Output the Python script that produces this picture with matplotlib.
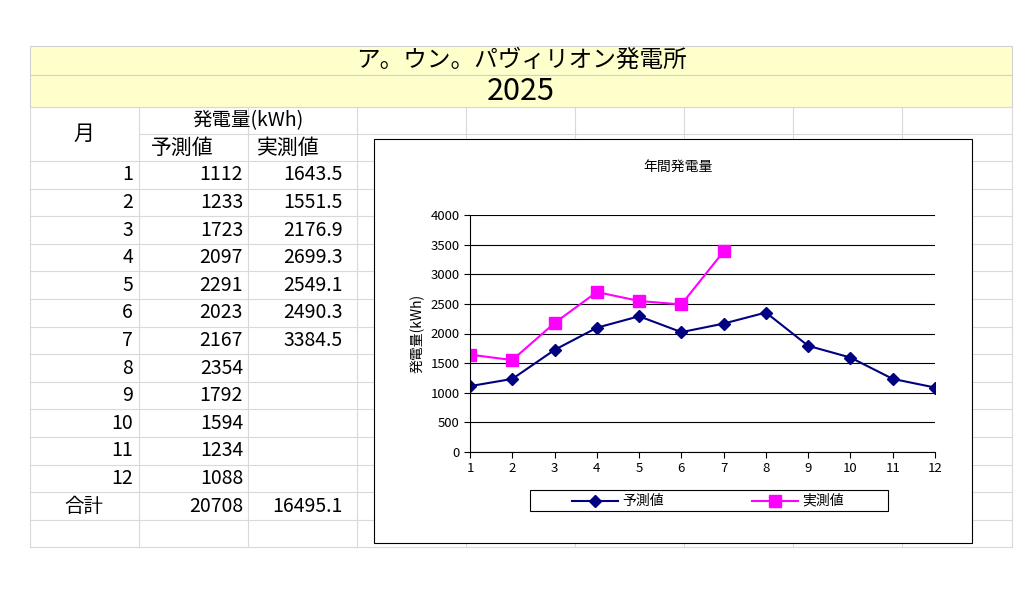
import matplotlib
matplotlib.use("Agg")
import matplotlib.pyplot as plt
from matplotlib.patches import Rectangle

plt.rcParams["font.family"] = ["Noto Sans CJK JP", "DejaVu Sans"]

title = "ア。ウン。パヴィリオン発電所"
year = "2025"
months = [1, 2, 3, 4, 5, 6, 7, 8, 9, 10, 11, 12]
forecast = [1112, 1233, 1723, 2097, 2291, 2023, 2167, 2354, 1792, 1594, 1234, 1088]
actual = [1643.5, 1551.5, 2176.9, 2699.3, 2549.1, 2490.3, 3384.5]
total_forecast = 20708
total_actual = 16495.1

W, H = 1024, 605
fig = plt.figure(figsize=(W / 100, H / 100), dpi=100)
bg = fig.add_axes([0, 0, 1, 1])
bg.set_xlim(0, W)
bg.set_ylim(H, 0)
bg.axis("off")

# title bands
for y0, y1 in [(46, 75), (75, 107)]:
    bg.add_patch(Rectangle((30, y0), 982, y1 - y0, facecolor="#ffffcc", edgecolor="#d0d0d0", lw=0.8))
bg.text(521, 60, title, ha="center", va="center", fontsize=17)
bg.text(521, 91, year, ha="center", va="center", fontsize=22)

# grid
gc = "#d9d9d9"
cols = [30, 139, 248, 357, 466, 575, 684, 793, 902, 1012]
rh = 27.6
row_top = 161
for x in cols:
    bg.plot([x, x], [107, 547], color=gc, lw=0.8)
bg.plot([30, 1012], [107, 107], color=gc, lw=0.8)
bg.plot([139, 1012], [134, 134], color=gc, lw=0.8)
for i in range(15):
    y = row_top + i * rh
    bg.plot([30, 1012], [y, y], color=gc, lw=0.8)

bg.text(84, 134, "月", ha="center", va="center", fontsize=15)
bg.text(248, 121, "発電量(kWh)", ha="center", va="center", fontsize=14)
bg.text(182, 148, "予測値", ha="center", va="center", fontsize=15)
bg.text(288, 148, "実測値", ha="center", va="center", fontsize=15)
for i, m in enumerate(months):
    yc = row_top + (i + 0.5) * rh
    bg.text(133, yc, str(m), ha="right", va="center", fontsize=14)
    bg.text(243, yc, str(forecast[i]), ha="right", va="center", fontsize=14)
    if i < len(actual):
        bg.text(343, yc, f"{actual[i]:.1f}", ha="right", va="center", fontsize=14)
yc = row_top + 12.5 * rh
bg.text(84, yc, "合計", ha="center", va="center", fontsize=14)
bg.text(243, yc, str(total_forecast), ha="right", va="center", fontsize=14)
bg.text(343, yc, f"{total_actual:.1f}", ha="right", va="center", fontsize=14)

# chart box
bg.add_patch(Rectangle((374, 139), 598, 404, facecolor="white", edgecolor="black", lw=0.8, zorder=5))
bg.text(678, 167, "年間発電量", ha="center", va="center", fontsize=10, zorder=6)

ax = fig.add_axes([470 / W, 1 - 452 / H, 465 / W, 237 / H])
ax.set_zorder(10)
ax.plot(months, forecast, color="#000080", marker="D", markersize=6, lw=1.5)
ax.plot(months[:len(actual)], actual, color="#ff00ff", marker="s", markersize=8, lw=1.5)
ax.set_xlim(1, 12)
ax.set_ylim(0, 4000)
ax.set_xticks(months)
ax.set_yticks(range(0, 4001, 500))
ax.grid(axis="y", color="black", lw=0.8)
ax.set_axisbelow(True)
for s in ["top", "right"]:
    ax.spines[s].set_visible(False)
ax.tick_params(labelsize=9.5, length=4, direction="out")
ax.set_ylabel("発電量(kWh)", fontsize=10)

# legend box
bg.add_patch(Rectangle((530, 490), 358, 21, facecolor="white", edgecolor="black", lw=0.8, zorder=6))
bg.plot([572, 618], [500.5, 500.5], color="#000080", lw=1.5, zorder=7)
bg.plot([595], [500.5], color="#000080", marker="D", markersize=6, zorder=7)
bg.text(622, 500.5, "予測値", va="center", fontsize=10, zorder=7)
bg.plot([752, 798], [500.5, 500.5], color="#ff00ff", lw=1.5, zorder=7)
bg.plot([775], [500.5], color="#ff00ff", marker="s", markersize=8, zorder=7)
bg.text(802, 500.5, "実測値", va="center", fontsize=10, zorder=7)

fig.savefig("out.png", dpi=100)
